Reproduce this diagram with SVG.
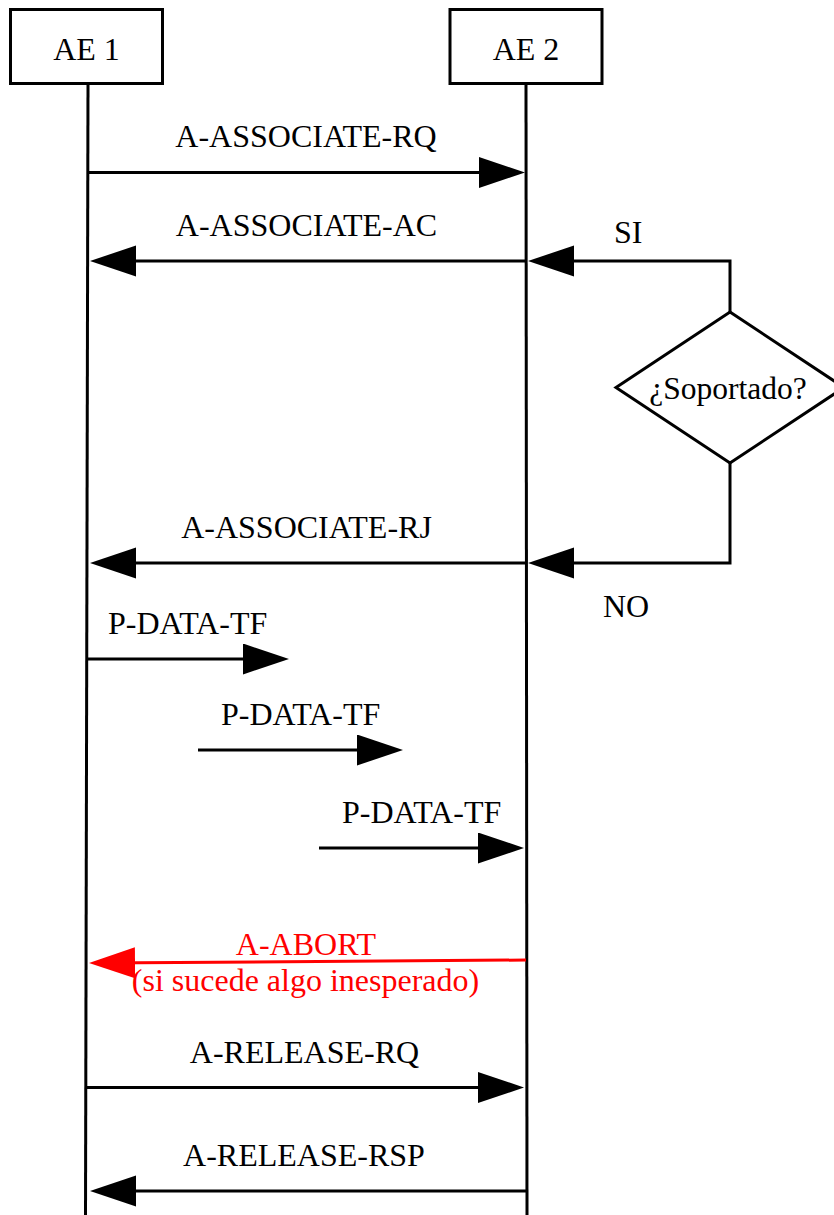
<svg xmlns="http://www.w3.org/2000/svg" width="834" height="1215" viewBox="0 0 834 1215">
  <style>
    text { font-family: "Liberation Serif", "Times New Roman", serif; font-size: 32px; fill: #000; }
    .mid { text-anchor: middle; }
    .red { fill: #ff0000; }
    .box { fill: #fff; stroke: #000; stroke-width: 3; }
    .life { stroke: #000; stroke-width: 3; fill: none; }
    .msg { stroke: #000; stroke-width: 3; fill: none; marker-end: url(#head); }
    .msg-red { stroke: #ff0000; stroke-width: 3; fill: none; marker-end: url(#head-red); }
    .branch { stroke: #000; stroke-width: 3; fill: none; stroke-linejoin: miter; }
  </style>
  <defs>
    <marker id="head" markerUnits="userSpaceOnUse" markerWidth="48" markerHeight="32" refX="36" refY="15.5" orient="auto" viewBox="0 0 48 32">
      <path d="M0,0 L46,15.5 L0,31 z" fill="#000"/>
    </marker>
    <marker id="head-red" markerUnits="userSpaceOnUse" markerWidth="48" markerHeight="32" refX="36" refY="15.5" orient="auto" viewBox="0 0 48 32">
      <path d="M0,0 L46,15.5 L0,31 z" fill="#ff0000"/>
    </marker>
  </defs>

  <!-- lifelines -->
  <g id="lifelines">
    <line class="life" x1="88" y1="84" x2="85.5" y2="1215"/>
    <line class="life" x1="526" y1="84" x2="527" y2="1215"/>
  </g>

  <!-- entity boxes -->
  <g id="ae1">
    <rect class="box" x="10.5" y="9.5" width="152" height="74"/>
    <text class="mid" x="86.5" y="60">AE 1</text>
  </g>
  <g id="ae2">
    <rect class="box" x="450" y="9.5" width="152" height="74"/>
    <text class="mid" x="526" y="60">AE 2</text>
  </g>

  <!-- decision -->
  <g id="decision">
    <polygon class="branch" fill="#fff" points="730,312 844,387.5 730,463 616,387.5"/>
    <text class="mid" x="728" y="399" style="font-size:31.5px">¿Soportado?</text>
  </g>

  <!-- messages -->
  <g id="connectors">
    <line class="msg" x1="88" y1="172.5" x2="515" y2="172.5"/>
    <line class="msg" x1="526" y1="261" x2="100" y2="261"/>
    <polyline class="msg" points="730,312 730,261 538,261"/>
    <polyline class="msg" points="730,463 730,563 538,563"/>
    <line class="msg" x1="526" y1="563" x2="100" y2="563"/>
    <line class="msg" x1="88" y1="659" x2="279" y2="659"/>
    <line class="msg" x1="198" y1="750" x2="393" y2="750"/>
    <line class="msg" x1="319" y1="848" x2="514" y2="848"/>
    <line class="msg-red" x1="526" y1="960" x2="99" y2="963"/>
    <line class="msg" x1="86" y1="1087.5" x2="514" y2="1087.5"/>
    <line class="msg" x1="526" y1="1191" x2="100" y2="1191"/>
  </g>

  <!-- message labels -->
  <g id="labels">
    <text class="mid" x="306" y="147">A-ASSOCIATE-RQ</text>
    <text class="mid" x="306.5" y="236">A-ASSOCIATE-AC</text>
    <text x="614" y="243">SI</text>
    <text class="mid" x="306.5" y="538">A-ASSOCIATE-RJ</text>
    <text x="603" y="617">NO</text>
    <text x="108" y="634">P-DATA-TF</text>
    <text x="221" y="725">P-DATA-TF</text>
    <text x="342" y="823">P-DATA-TF</text>
    <text class="mid red" x="306" y="955">A-ABORT</text>
    <text class="mid red" x="305.5" y="991">(si sucede algo inesperado)</text>
    <text class="mid" x="304.5" y="1063">A-RELEASE-RQ</text>
    <text class="mid" x="304" y="1166">A-RELEASE-RSP</text>
  </g>
</svg>
